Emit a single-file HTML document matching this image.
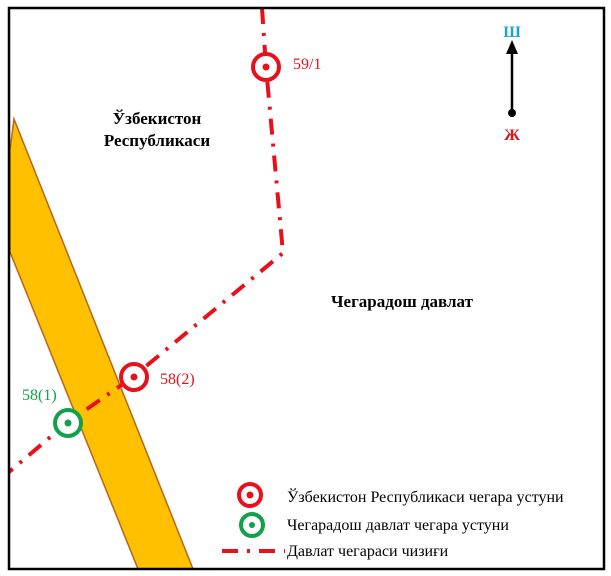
<!DOCTYPE html>
<html><head><meta charset="utf-8"><style>
body{margin:0;background:#fff;}
svg{display:block;font-family:"Liberation Serif",serif;}
</style></head><body>
<svg width="611" height="576" viewBox="0 0 611 576" xmlns="http://www.w3.org/2000/svg">
<rect x="0" y="0" width="611" height="576" fill="#fff"/>
<polygon points="14,119 193,569 138,569 10,252 10,150" fill="#FFC000" stroke="#B8651B" stroke-width="1.5"/>
<polyline points="262,8 266,67 283,253 133,377 67,423 9,472" fill="none" stroke="#E8101A" stroke-width="4" stroke-dasharray="16,9,3,9"/>
<rect x="9" y="8" width="595" height="561" fill="none" stroke="#000" stroke-width="2.5"/>
<g fill="#fff" stroke="#E8101A" stroke-width="4"><circle cx="266" cy="67" r="13"/><circle cx="134" cy="377" r="13"/><circle cx="250" cy="495" r="11"/></g>
<g fill="#fff" stroke="#12A04A" stroke-width="4"><circle cx="68" cy="423" r="13"/><circle cx="252" cy="525" r="11"/></g>
<g fill="#E8101A"><circle cx="266" cy="67" r="3.5"/><circle cx="134" cy="377" r="3.5"/><circle cx="250" cy="495" r="3.5"/></g>
<g fill="#12A04A"><circle cx="68" cy="423" r="3.5"/><circle cx="252" cy="525" r="3"/></g>
<line x1="222" y1="551" x2="285" y2="551" stroke="#E8101A" stroke-width="4" stroke-dasharray="16,9,3,9"/>
<line x1="512" y1="113" x2="512" y2="48" stroke="#000" stroke-width="2.5"/>
<polygon points="512,40 506,54 518,54" fill="#000"/>
<circle cx="512" cy="113" r="4" fill="#000"/>
<text x="512" y="37" font-size="16" font-weight="bold" fill="#1FA0DC" text-anchor="middle">Ш</text>
<text x="512" y="140" font-size="16" font-weight="bold" fill="#E8101A" text-anchor="middle">Ж</text>
<text x="157" y="124" font-size="17" font-weight="bold" text-anchor="middle">Ўзбекистон</text>
<text x="157" y="146" font-size="17" font-weight="bold" text-anchor="middle">Республикаси</text>
<text x="402" y="307" font-size="17" font-weight="bold" text-anchor="middle">Чегарадош давлат</text>
<text x="293" y="69" font-size="16" fill="#E8101A">59/1</text>
<text x="160" y="384" font-size="16" fill="#E8101A">58(2)</text>
<text x="22" y="400" font-size="16" fill="#12A04A">58(1)</text>
<text x="287" y="502" font-size="16">Ўзбекистон Республикаси чегара устуни</text>
<text x="287" y="530" font-size="16">Чегарадош давлат чегара устуни</text>
<text x="287" y="556" font-size="16">Давлат чегараси чизиғи</text>
</svg>
</body></html>
